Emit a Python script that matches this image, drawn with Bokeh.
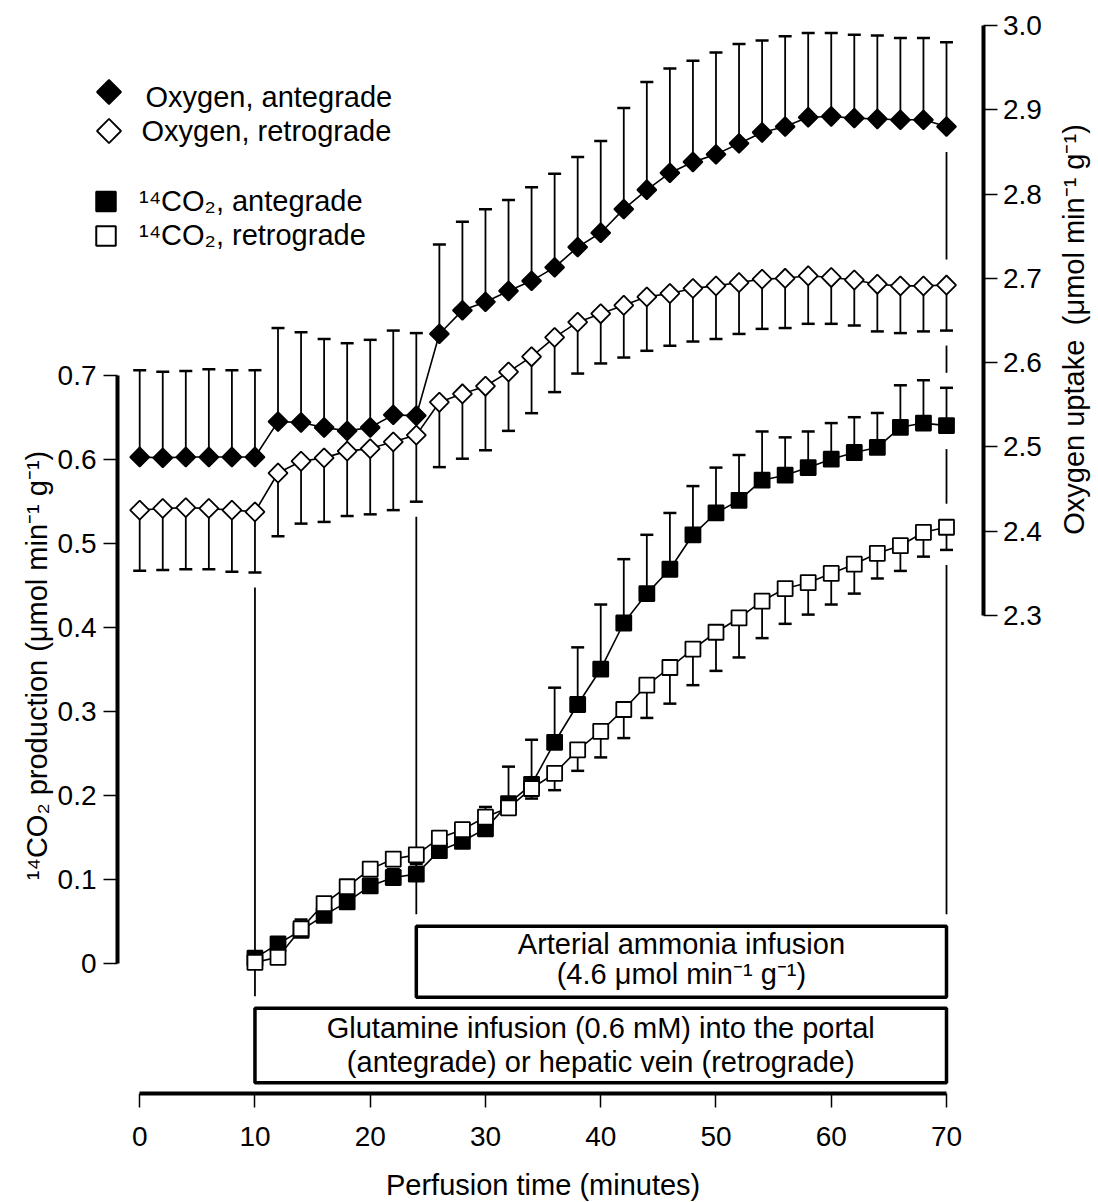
import math

from bokeh.core.properties import value
from bokeh.embed import file_html
from bokeh.models import CustomJSTickFormatter, FixedTicker, LinearAxis, Range1d
from bokeh.plotting import figure
from bokeh.resources import INLINE

# ---------------------------------------------------------------- data
# Perfusion time (min) for the oxygen uptake series
time_o2 = [0, 2, 4, 6, 8, 10, 12, 14, 16, 18, 20, 22, 24, 26, 28, 30, 32, 34,
           36, 38, 40, 42, 44, 46, 48, 50, 52, 54, 56, 58, 60, 62, 64, 66, 68, 70]

# Oxygen uptake (umol min-1 g-1), antegrade perfusion, mean and SEM
o2_ante = [2.488, 2.487, 2.488, 2.488, 2.488, 2.488, 2.530, 2.529, 2.523, 2.519,
           2.523, 2.538, 2.537, 2.634, 2.662, 2.672, 2.685, 2.697, 2.713, 2.737,
           2.754, 2.782, 2.805, 2.825, 2.838, 2.847, 2.860, 2.873, 2.880, 2.891,
           2.892, 2.890, 2.889, 2.888, 2.888, 2.880]
o2_ante_sem = [0.103, 0.102, 0.102, 0.104, 0.103, 0.103, 0.111, 0.107, 0.105, 0.104,
               0.104, 0.100, 0.098, 0.106, 0.105, 0.110, 0.108, 0.111, 0.111, 0.107,
               0.109, 0.120, 0.128, 0.124, 0.120, 0.121, 0.118, 0.109, 0.107, 0.100,
               0.099, 0.099, 0.099, 0.097, 0.097, 0.100]

# Oxygen uptake, retrograde perfusion, mean and SEM
o2_retro = [2.425, 2.427, 2.428, 2.427, 2.425, 2.423, 2.469, 2.483, 2.487, 2.495,
            2.498, 2.506, 2.514, 2.553, 2.563, 2.572, 2.589, 2.607, 2.630, 2.648,
            2.658, 2.668, 2.678, 2.682, 2.688, 2.691, 2.695, 2.699, 2.700, 2.703,
            2.701, 2.698, 2.693, 2.691, 2.691, 2.692]
o2_retro_sem = [0.072, 0.073, 0.073, 0.072, 0.073, 0.072, 0.075, 0.074, 0.076, 0.077,
                0.078, 0.081, 0.079, 0.077, 0.077, 0.076, 0.070, 0.067, 0.065, 0.061,
                0.059, 0.062, 0.064, 0.062, 0.063, 0.063, 0.061, 0.059, 0.059, 0.057,
                0.055, 0.054, 0.056, 0.056, 0.054, 0.054]

# Perfusion time (min) for the 14CO2 series (glutamine infused from 10 min)
time_co2 = [10, 12, 14, 16, 18, 20, 22, 24, 26, 28, 30, 32, 34, 36, 38, 40,
            42, 44, 46, 48, 50, 52, 54, 56, 58, 60, 62, 64, 66, 68, 70]

# 14CO2 production (umol min-1 g-1), antegrade, mean and SEM
co2_ante = [0.006, 0.023, 0.039, 0.057, 0.073, 0.092, 0.102, 0.106, 0.134, 0.145,
            0.160, 0.190, 0.213, 0.263, 0.308, 0.350, 0.405, 0.440, 0.469, 0.510,
            0.536, 0.551, 0.575, 0.581, 0.590, 0.600, 0.608, 0.614, 0.638, 0.643,
            0.640]
co2_ante_sem = [0.003, 0.004, 0.013, 0.004, 0.004, 0.004, 0.010, 0.012, 0.004, 0.004,
                0.026, 0.044, 0.053, 0.065, 0.068, 0.077, 0.076, 0.070, 0.067, 0.058,
                0.054, 0.054, 0.058, 0.045, 0.043, 0.043, 0.042, 0.041, 0.050, 0.051,
                0.045]

# 14CO2 production, retrograde, mean and SEM
co2_retro = [0.001, 0.007, 0.041, 0.071, 0.091, 0.112, 0.124, 0.129, 0.149, 0.159,
             0.174, 0.185, 0.208, 0.226, 0.254, 0.276, 0.302, 0.331, 0.352, 0.374,
             0.394, 0.411, 0.431, 0.446, 0.453, 0.464, 0.475, 0.488, 0.497, 0.513,
             0.519]
co2_retro_sem = [0.004, 0.004, 0.004, 0.004, 0.004, 0.004, 0.004, 0.004, 0.004, 0.004,
                 0.004, 0.004, 0.012, 0.020, 0.025, 0.031, 0.034, 0.039, 0.043, 0.043,
                 0.046, 0.047, 0.044, 0.042, 0.038, 0.037, 0.035, 0.030, 0.030, 0.029,
                 0.027]

# Axis ticks
time_ticks = [0, 10, 20, 30, 40, 50, 60, 70]
co2_ticks = [0, 0.1, 0.2, 0.3, 0.4, 0.5, 0.6, 0.7]
o2_ticks = [2.3, 2.4, 2.5, 2.6, 2.7, 2.8, 2.9, 3.0]

# Infusion periods (min)
glutamine_period = (10, 70)
ammonia_period = (24, 70)

# ---------------------------------------------------------------- layout
W, H = 1098, 1202
X0_PX, X_SCALE = 139.2, 806.8 / 70.0      # px of t=0, px per minute
Y0_PX, Y_SCALE = 962.7, 840.0             # px of CO2=0, px per unit
O2_REF, O2_REF_PX, O2_SCALE = 2.3, 615.0, 843.0


def xd(px):
    return (px - X0_PX) / X_SCALE


def yd(py):
    return (Y0_PX - py) / Y_SCALE


def od(py):
    return O2_REF + (O2_REF_PX - py) / O2_SCALE


def py_co2(v):
    return Y0_PX - v * Y_SCALE


def py_o2(w):
    return O2_REF_PX - (w - O2_REF) * O2_SCALE


FONT = value("Liberation Sans")
FS = value("29px")
BLACK = "black"

p = figure(width=W, height=H, output_backend="svg", toolbar_location=None,
           x_range=Range1d(xd(0), xd(W)), y_range=Range1d(yd(H), yd(0)),
           x_axis_location=None, y_axis_location=None, min_border=0,
           title=None)
p.extra_y_ranges = {"o2": Range1d(od(H), od(0))}
p.outline_line_color = None
p.background_fill_color = "white"
p.border_fill_color = "white"
for g in p.grid:
    g.visible = False


def style_axis(ax, standoff):
    ax.axis_line_width = 4
    ax.axis_line_color = BLACK
    ax.major_tick_line_width = 1.5
    ax.major_tick_line_color = BLACK
    ax.major_tick_out = 14
    ax.major_tick_in = 0
    ax.minor_tick_line_color = None
    ax.major_label_text_font = "Liberation Sans"
    ax.major_label_text_font_size = "28px"
    ax.major_label_text_color = BLACK
    ax.major_label_standoff = standoff


left_ax = LinearAxis(fixed_location=xd(117), bounds=(0, 0.7),
                     ticker=FixedTicker(ticks=co2_ticks),
                     formatter=CustomJSTickFormatter(
                         code="return tick == 0 ? '0' : tick.toFixed(1);"))
style_axis(left_ax, 7)
p.add_layout(left_ax, "left")

right_ax = LinearAxis(fixed_location=xd(982.5), bounds=(2.3, 3.0), y_range_name="o2",
                      ticker=FixedTicker(ticks=o2_ticks),
                      formatter=CustomJSTickFormatter(code="return tick.toFixed(1);"))
style_axis(right_ax, 6)
p.add_layout(right_ax, "right")

bottom_ax = LinearAxis(fixed_location=yd(1092.7), bounds=(0, 70),
                       ticker=FixedTicker(ticks=time_ticks))
style_axis(bottom_ax, 20)
p.add_layout(bottom_ax, "below")


def label(xs, ys, texts, align="center", angle=0.0):
    p.text(x=xs, y=ys, text=texts, angle=angle,
           text_align=align, text_baseline="middle",
           text_font=FONT, text_font_size=FS, text_color=BLACK)


# ---------------------------------------------------------------- infusion boxes
glut_top, glut_bottom = 1007.7, 1082.3
amm_top, amm_bottom = 925.7, 996.7
p.quad(left=[glutamine_period[0]], right=[glutamine_period[1]],
       top=[yd(glut_top)], bottom=[yd(glut_bottom)],
       fill_color="white", line_color=BLACK, line_width=3.5)
p.quad(left=[ammonia_period[0]], right=[ammonia_period[1]],
       top=[yd(amm_top)], bottom=[yd(amm_bottom)],
       fill_color="white", line_color=BLACK, line_width=3.5)

amm_cx = sum(ammonia_period) / 2
glut_cx = sum(glutamine_period) / 2
label([amm_cx, amm_cx, glut_cx, glut_cx],
      [yd(943), yd(973), yd(1027.5), yd(1061.5)],
      ["Arterial ammonia infusion",
       "(4.6 \u03bcmol min\u207b\u00b9 g\u207b\u00b9)",
       "Glutamine infusion (0.6 mM) into the portal",
       "(antegrade) or hepatic vein (retrograde)"])

# ---------------------------------------------------------------- event lines
GAP = 15.0
BOX_GAP = 12.0
D_HALF = 10.5   # half height of diamond markers, px
S_HALF = 8.5    # half height of square markers, px

ev_x, ev_y0, ev_y1 = [], [], []
# start of glutamine and ammonia infusion: from below the oxygen marks down to the box
for t, box_top in ((glutamine_period[0], glut_top), (ammonia_period[0], amm_top)):
    i = time_o2.index(t)
    low = max(py_o2(o2_retro[i] - o2_retro_sem[i]), py_o2(o2_retro[i]) + D_HALF,
              py_o2(o2_ante[i]) + D_HALF)
    ev_x.append(t)
    ev_y0.append(yd(low + GAP))
    ev_y1.append(yd(box_top - BOX_GAP))

# end of infusion: full-height line broken around every mark at that time
t_end = glutamine_period[1]
i, j = time_o2.index(t_end), time_co2.index(t_end)
blocks = [
    (py_o2(o2_ante[i] + o2_ante_sem[i]), py_o2(o2_ante[i]) + D_HALF),
    (py_o2(o2_retro[i]) - D_HALF, py_o2(o2_retro[i] - o2_retro_sem[i])),
    (py_co2(co2_ante[j] + co2_ante_sem[j]), py_co2(co2_ante[j]) + S_HALF),
    (py_co2(co2_retro[j]) - S_HALF, py_co2(co2_retro[j] - co2_retro_sem[j])),
]
blocks.sort()
cursor = blocks[0][1] + GAP
for top, bottom in blocks[1:]:
    ev_x.append(t_end)
    ev_y0.append(yd(cursor))
    ev_y1.append(yd(top - GAP))
    cursor = bottom + GAP
ev_x.append(t_end)
ev_y0.append(yd(cursor))
ev_y1.append(yd(amm_top - BOX_GAP))

p.segment(x0=ev_x, y0=ev_y0, x1=ev_x, y1=ev_y1, line_color=BLACK, line_width=1.8)

# ---------------------------------------------------------------- series
CAP = 13
STEM_W = 1.8
CAP_W = 2.5


def error_bars(t, mean, sem, sign, rng="default"):
    ends = [m + sign * e for m, e in zip(mean, sem)]
    p.segment(x0=t, y0=mean, x1=t, y1=ends, line_color=BLACK, line_width=STEM_W,
              y_range_name=rng)
    p.scatter(t, ends, marker="dash", size=CAP, line_color=BLACK, line_width=CAP_W,
              y_range_name=rng)


# oxygen, antegrade (bars up), then retrograde (bars down)
error_bars(time_o2, o2_ante, o2_ante_sem, +1, "o2")
p.line(time_o2, o2_ante, line_color=BLACK, line_width=1.6, y_range_name="o2")
p.scatter(time_o2, o2_ante, marker="square", angle=math.pi / 4, size=13.5,
          fill_color=BLACK, line_color=BLACK, line_width=1.8, y_range_name="o2")

error_bars(time_o2, o2_retro, o2_retro_sem, -1, "o2")
p.line(time_o2, o2_retro, line_color=BLACK, line_width=1.6, y_range_name="o2")
p.scatter(time_o2, o2_retro, marker="square", angle=math.pi / 4, size=13.5,
          fill_color="white", line_color=BLACK, line_width=1.8, y_range_name="o2")

# 14CO2, antegrade (bars up), then retrograde (bars down)
error_bars(time_co2, co2_ante, co2_ante_sem, +1)
p.line(time_co2, co2_ante, line_color=BLACK, line_width=1.6)
p.scatter(time_co2, co2_ante, marker="square", size=15,
          fill_color=BLACK, line_color=BLACK, line_width=1.8)

error_bars(time_co2, co2_retro, co2_retro_sem, -1)
p.line(time_co2, co2_retro, line_color=BLACK, line_width=1.6)
p.scatter(time_co2, co2_retro, marker="square", size=15,
          fill_color="white", line_color=BLACK, line_width=1.8)

# ---------------------------------------------------------------- key
p.scatter([xd(108.5), xd(108.5)], [yd(91.5), yd(130.5)], marker="square",
          angle=math.pi / 4, size=17, fill_color=[BLACK, "white"],
          line_color=BLACK, line_width=1.8)
p.scatter([xd(105.5), xd(105.5)], [yd(201), yd(235.5)], marker="square", size=19.5,
          fill_color=[BLACK, "white"], line_color=BLACK, line_width=2)
label([xd(145), xd(141), xd(138.5), xd(138.5)],
      [yd(96), yd(130.5), yd(200), yd(234)],
      ["Oxygen, antegrade", "Oxygen, retrograde",
       "\u00b9\u2074CO\u2082, antegrade", "\u00b9\u2074CO\u2082, retrograde"],
      align="left")

# ---------------------------------------------------------------- axis titles
label([xd(542.6)], [yd(1184)], ["Perfusion time (minutes)"])
label([xd(36.6)], [yd(665)],
      ["\u00b9\u2074CO\u2082 production (\u03bcmol min\u207b\u00b9 g\u207b\u00b9)"],
      angle=math.pi / 2)
label([xd(1073)], [yd(329)],
      ["Oxygen uptake\u2002(\u03bcmol min\u207b\u00b9 g\u207b\u00b9)"],
      angle=math.pi / 2)

open("out.html", "w").write(file_html(p, INLINE))
